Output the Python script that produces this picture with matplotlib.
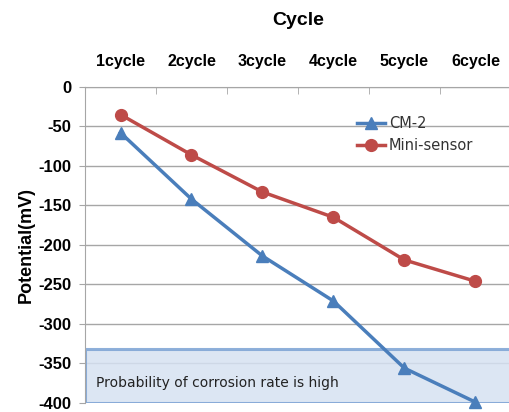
import matplotlib
matplotlib.use("Agg")
import matplotlib.pyplot as plt
from matplotlib.patches import Rectangle
from matplotlib import font_manager

categories = ["1cycle", "2cycle", "3cycle", "4cycle", "5cycle", "6cycle"]
cm2 = [-58, -142, -214, -271, -356, -399]
mini = [-35, -86, -133, -165, -219, -246]
yticks = [0, -50, -100, -150, -200, -250, -300, -350, -400]
zone_low, zone_high = -400, -332

names = {f.name for f in font_manager.fontManager.ttflist}
narrow = "Liberation Sans Narrow" if "Liberation Sans Narrow" in names else "Liberation Sans"

fig = plt.figure(figsize=(5.1, 4.12), dpi=100)
ax = fig.add_axes([0.1667, 0.022, 0.835, 0.767])

x = list(range(len(categories)))
ax.set_xlim(-0.5, len(categories) - 0.5)
ax.set_ylim(-400, 0)

for yv in yticks:
    ax.axhline(yv, color="#a6a6a6", lw=1.0, zorder=1)

ax.add_patch(Rectangle((-0.5, zone_low), len(categories), zone_high - zone_low,
                       facecolor="#d6e2f2", edgecolor="#7ba2d4", lw=2.2, alpha=0.85, zorder=2))
ax.text(-0.35, (zone_low + zone_high) / 2 - 9, "Probability of corrosion rate is high",
        fontsize=10, family="DejaVu Sans", color="#222222", va="center", zorder=3)

ax.plot(x, cm2, color="#4a7ebb", lw=2.5, marker="^", ms=8.5, label="CM-2", zorder=4, clip_on=False)
ax.plot(x, mini, color="#be4b48", lw=2.5, marker="o", ms=8.5, label="Mini-sensor", zorder=4, clip_on=False)

ax.xaxis.tick_top()
ax.set_xticks(x)
ax.set_xticklabels(categories, fontsize=11.5, family=narrow, fontweight="bold")
ax.set_xticks([i + 0.5 for i in range(len(categories) - 1)], minor=True)
ax.tick_params(axis="x", which="major", length=0, pad=13)
ax.tick_params(axis="x", which="minor", length=5, color="#a6a6a6", direction="in")
ax.set_title("Cycle", fontsize=14, family=narrow, fontweight="bold", pad=21)

ax.set_yticks(yticks)
ax.set_yticklabels([str(v) for v in yticks], fontsize=12, family=narrow, fontweight="bold")
ax.tick_params(axis="y", length=4, color="#a6a6a6", pad=6)
ax.set_ylabel("Potential(mV)", fontsize=13, family=narrow, fontweight="bold", labelpad=2)

for s in ["right", "bottom"]:
    ax.spines[s].set_visible(False)
ax.spines["left"].set_color("#a6a6a6")
ax.spines["top"].set_color("#a6a6a6")

leg = ax.legend(loc="upper left", bbox_to_anchor=(0.625, 0.925), frameon=False,
                prop={"family": "DejaVu Sans", "size": 10.5}, handlelength=1.9,
                handletextpad=0.3, borderaxespad=0, labelspacing=0.45)
for t in leg.get_texts():
    t.set_color("#333333")
leg.set_zorder(5)

fig.savefig("out.png", dpi=100)
